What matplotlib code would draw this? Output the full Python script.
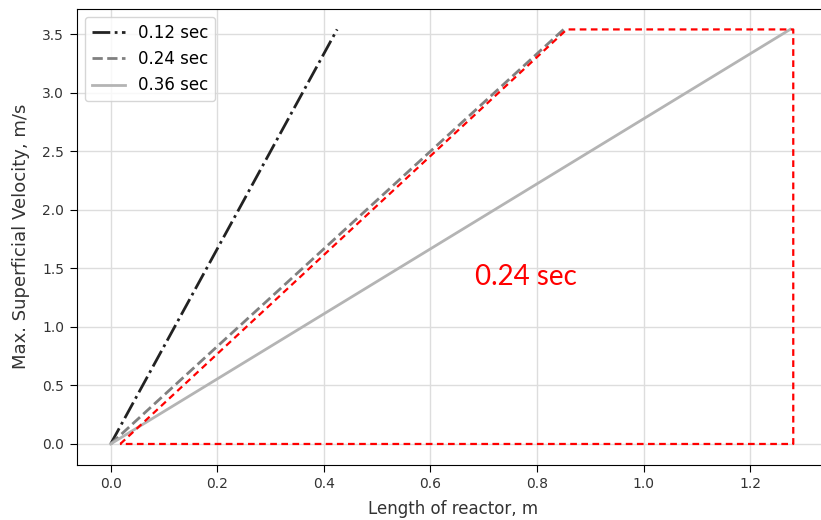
import numpy as np
import matplotlib.pyplot as plt

# residence times and line end points (start at origin)
times = ['0.12 sec', '0.24 sec', '0.36 sec']
length_end = [0.425, 0.85, 1.275]
vel_max = 3.54

# red outline drawn around the 0.24 sec region
box_x = [0.018, 0.856, 1.281, 1.281, 0.018]
box_y = [0.0, 3.54, 3.54, 0.0, 0.0]

styles = [('-.', '#222222'), ('--', '#808080'), ('-', '#b4b4b4')]

fig = plt.figure(figsize=(8.21, 5.2), dpi=100)
# right part of the axes runs off the picture, as in the cropped original
ax = fig.add_axes([76.7 / 821, 55.3 / 520, 752 / 821, 456 / 520])

for lab, xe, (ls, c) in zip(times, length_end, styles):
    ax.plot([0, xe], [0, vel_max], ls, color=c, lw=2, label=lab)

ax.plot(box_x, box_y, '--', color='red', lw=1.6, dashes=(3, 2))
ax.text(0.684, 1.43, '0.24 sec', color='red', fontsize=20, family='Lato',
        va='center', ha='left')

ax.set_xlim(-0.06375, 1.3475)
ax.set_ylim(-0.177, 3.717)
ax.set_xticks(np.arange(0, 1.3, 0.2))
ax.set_yticks(np.arange(0, 3.6, 0.5))
ax.grid(True, color='#dddddd', lw=1)
ax.set_axisbelow(True)
ax.set_xlabel('Length of reactor, m', fontsize=12, color='#333333', labelpad=6)
ax.set_ylabel('Max. Superficial Velocity, m/s', fontsize=13, color='#333333',
              labelpad=9)
ax.tick_params(labelsize=10, labelcolor='#333333', length=5, pad=4)
ax.legend(loc='upper left', fontsize=12)

fig.savefig('out.png', dpi=100)
